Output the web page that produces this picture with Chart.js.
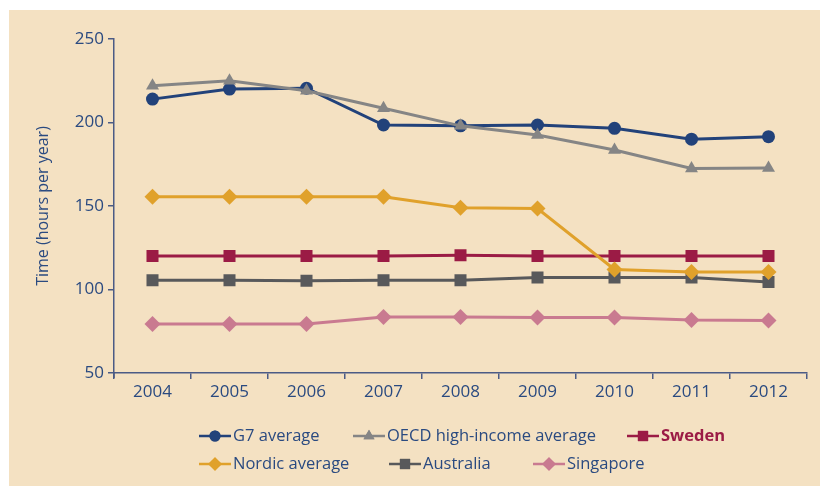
<!DOCTYPE html>
<html>
<head>
<meta charset="utf-8">
<script src="https://cdn.jsdelivr.net/npm/chart.js@4/dist/chart.umd.min.js"></script>
<style>
  html, body { margin: 0; padding: 0; background: #ffffff; }
  #wrap { position: relative; width: 820px; height: 486px; }
</style>
</head>
<body>
<div id="wrap"><canvas id="c" width="820" height="486"></canvas></div>
<script>
// ---- data ----
const years = ['2004', '2005', '2006', '2007', '2008', '2009', '2010', '2011', '2012'];
const yTicks = [50, 100, 150, 200, 250];
const seriesNames = ['G7 average', 'OECD high-income average', 'Sweden', 'Nordic average', 'Australia', 'Singapore'];
const g7 = [214, 220, 220.5, 198.5, 198, 198.5, 196.5, 190, 191.5];
const oecd = [222, 225, 219, 208.5, 198, 192.5, 183.5, 172.5, 172.8];
const sweden = [120, 120, 120, 120, 120.5, 120, 120, 120, 120];
const nordic = [155.5, 155.5, 155.5, 155.5, 149, 148.5, 112, 110.5, 110.5];
const australia = [105.5, 105.5, 105.3, 105.5, 105.5, 107.2, 107.2, 107.2, 104.5];
const singapore = [79.3, 79.3, 79.3, 83.5, 83.5, 83.3, 83.3, 81.8, 81.5];

// ---- styles ----
const NAVY = '#2a4a80';
const AXIS = '#4b5b85';
const BG = '#f4e1c2';
const FONT = "'Open Sans', 'DejaVu Sans', sans-serif";

const styles = [
  { color: '#22427a', point: 'circle', radius: 6.5, width: 3, order: 1 },
  { color: '#858585', point: 'triangle', radius: 7.5, width: 3, order: 0 },
  { color: '#9b1b45', point: 'rect', radius: 8.5, width: 3, order: 4 },
  { color: '#e0a12b', point: 'rectRot', radius: 8, width: 3, order: 2 },
  { color: '#58595b', point: 'rect', radius: 8.5, width: 3, order: 5 },
  { color: '#c97a90', point: 'rectRot', radius: 8, width: 3, order: 3 }
];
const values = [g7, oecd, sweden, nordic, australia, singapore];

const datasets = values.map((v, i) => ({
  label: seriesNames[i],
  data: v,
  borderColor: styles[i].color,
  backgroundColor: styles[i].color,
  pointBackgroundColor: styles[i].color,
  pointBorderColor: styles[i].color,
  pointBorderWidth: 0,
  borderWidth: styles[i].width,
  pointStyle: styles[i].point,
  pointRadius: styles[i].radius,
  tension: 0,
  order: styles[i].order
}));

// legend layout (positions only)
const legendLayout = [
  { x: 199, y: 436 }, { x: 353, y: 436 }, { x: 627, y: 436 },
  { x: 199, y: 464 }, { x: 389, y: 464 }, { x: 533, y: 464 }
];

const bgPlugin = {
  id: 'bg',
  beforeDraw(chart) {
    const ctx = chart.ctx;
    ctx.save();
    ctx.fillStyle = '#ffffff';
    ctx.fillRect(0, 0, chart.width, chart.height);
    ctx.fillStyle = BG;
    ctx.fillRect(9, 10, chart.width - 9, chart.height - 10);
    ctx.restore();
  },
  afterDraw(chart) {
    // small extension of the y axis line below the x axis
    const a = chart.chartArea;
    const ctx = chart.ctx;
    ctx.save();
    ctx.strokeStyle = AXIS;
    ctx.lineWidth = 1.5;
    ctx.beginPath();
    ctx.moveTo(a.left, a.bottom);
    ctx.lineTo(a.left, a.bottom + 5);
    ctx.stroke();
    ctx.restore();
  }
};

const legendPlugin = {
  id: 'customLegend',
  afterDraw(chart) {
    const ctx = chart.ctx;
    ctx.save();
    chart.data.datasets.forEach((ds, i) => {
      const p = legendLayout[i];
      ctx.strokeStyle = ds.borderColor;
      ctx.lineWidth = 2.5;
      ctx.beginPath();
      ctx.moveTo(p.x, p.y);
      ctx.lineTo(p.x + 32, p.y);
      ctx.stroke();
      ctx.fillStyle = ds.borderColor;
      Chart.helpers.drawPoint(ctx, {
        pointStyle: ds.pointStyle,
        radius: ds.pointRadius * 0.85,
        rotation: 0,
        borderWidth: 0
      }, p.x + 16, p.y);
      ctx.fill();
      const isSweden = ds.label === 'Sweden';
      ctx.fillStyle = isSweden ? '#9b1b45' : NAVY;
      ctx.font = (isSweden ? 'bold ' : '') + '16.5px ' + FONT;
      ctx.textBaseline = 'middle';
      ctx.textAlign = 'left';
      ctx.fillText(ds.label, p.x + 34, p.y);
    });
    ctx.restore();
  }
};

new Chart(document.getElementById('c'), {
  type: 'line',
  data: { labels: years, datasets },
  options: {
    responsive: false,
    animation: false,
    layout: { padding: { left: 0, top: 39, right: 13, bottom: 73 } },
    plugins: { legend: { display: false }, tooltip: { enabled: false } },
    scales: {
      x: {
        offset: true,
        grid: { display: true, offset: true, drawOnChartArea: false, drawTicks: true, tickLength: 6, color: AXIS, lineWidth: 1.5 },
        border: { display: true, color: AXIS, width: 1.5 },
        ticks: { color: NAVY, font: { family: FONT, size: 17 }, padding: 3, maxRotation: 0 },
        afterFit(scale) { scale.height = 40; }
      },
      y: {
        min: 50, max: 250,
        afterBuildTicks(scale) { scale.ticks = yTicks.map(v => ({ value: v })); },
        grid: { display: true, drawOnChartArea: false, drawTicks: true, tickLength: 6, color: AXIS, lineWidth: 1.5 },
        border: { display: true, color: AXIS, width: 1.5 },
        ticks: { color: NAVY, font: { family: FONT, size: 17 }, padding: 4 },
        title: { display: true, text: 'Time (hours per year)', color: NAVY, font: { family: FONT, size: 16 }, padding: { top: 34, bottom: 0 } },
        afterFit(scale) { scale.width = 114; }
      }
    }
  },
  plugins: [bgPlugin, legendPlugin]
});
</script>
</body>
</html>
